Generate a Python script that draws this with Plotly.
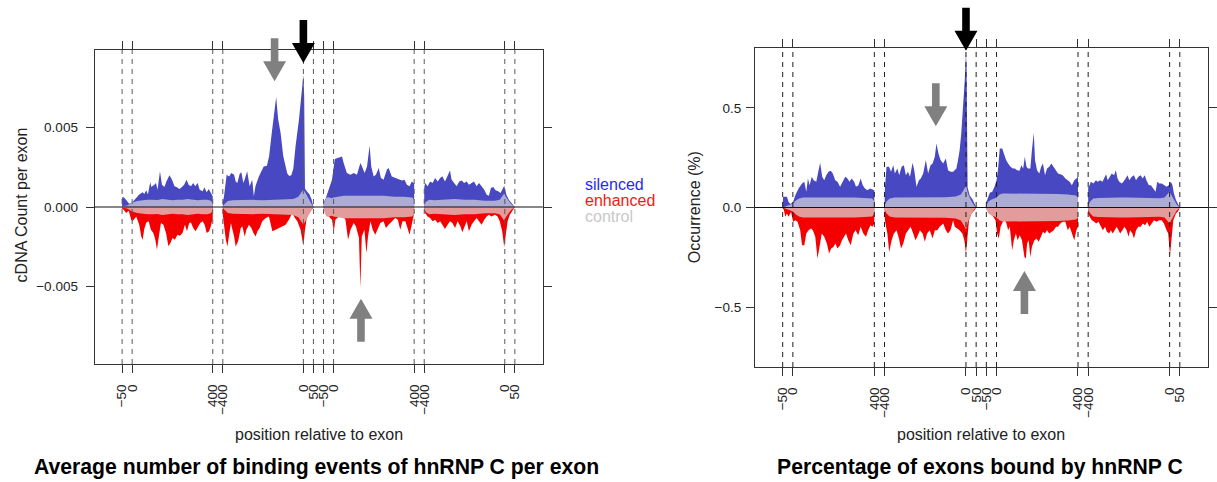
import plotly.graph_objects as go

W, H = 1217, 482
FONT = "Liberation Sans"

# ---------------------------------------------------------------------------
# x layout: four windows around the alternative exon, 5 nt per axis unit
#   A: upstream exon end (-50..0) + intron (0..400)
#   B: intron (-400..0) + alternative exon start (0..50)
#   C: alternative exon end (-50..0) + intron (0..400)
#   D: intron (-400..0) + downstream exon start (0..50)
# ---------------------------------------------------------------------------
SEGMENTS = {"A": (-50, 0), "B": (-400, 100), "C": (-50, 200), "D": (-400, 300)}
SEG_BOUNDS = {"A": [-50, 0, 400], "B": [-400, 0, 50], "C": [-50, 0, 400], "D": [-400, 0, 50]}
TICK_TEXT = ["\u221250", "0", "400", "\u2212400", "0", "50",
             "\u221250", "0", "400", "\u2212400", "0", "50"]

# ---------------- panel 1: average cDNA count per exon ----------------------
cnt_sil_A_pos = [-50, -40, -30, -15, 0, 20, 35, 52, 60, 70, 78, 90, 95, 110, 118, 126, 138, 148, 160, 170,
                 185, 198, 210, 220, 235, 247, 258, 270, 280, 292, 303, 313, 325, 335, 350, 358, 370, 380, 390, 400]
cnt_sil_A_val = [0.00062, 0.00060, 0.00045, 0.00021, 0.00028, 0.00057, 0.00078, 0.00092, 0.00082, 0.00105,
                 0.00078, 0.00157, 0.00126, 0.00140, 0.00151, 0.00109, 0.00224, 0.00140, 0.00126, 0.00161,
                 0.00199, 0.00172, 0.00130, 0.00126, 0.00113, 0.00126, 0.00140, 0.00172, 0.00140, 0.00130,
                 0.00151, 0.00130, 0.00151, 0.00109, 0.00099, 0.00124, 0.00092, 0.00113, 0.00092, 0.00067]
cnt_enh_A_pos = [-50, -42, -30, -17, -5, 2, 20, 35, 45, 52, 60, 70, 82, 93, 105, 115, 123, 135, 143, 155, 168,
                 180, 190, 200, 212, 225, 237, 250, 262, 272, 283, 292, 303, 315, 328, 338, 350, 360, 370, 382,
                 390, 400]
cnt_enh_A_val = [-0.00010, -0.00017, -0.00038, -0.00023, -0.00080, -0.00090, -0.00059, -0.00111, -0.00185,
                 -0.00206, -0.00139, -0.00097, -0.00090, -0.00143, -0.00164, -0.00206, -0.00269, -0.00164,
                 -0.00101, -0.00111, -0.00164, -0.00247, -0.00227, -0.00195, -0.00206, -0.00174, -0.00181,
                 -0.00164, -0.00111, -0.00153, -0.00101, -0.00097, -0.00132, -0.00153, -0.00122, -0.00101,
                 -0.00090, -0.00111, -0.00164, -0.00153, -0.00122, -0.00070]
cnt_ctl_A_pos = [-50, -25, -10, 0, 25, 50, 75, 100, 125, 150, 175, 200, 225, 250, 275, 300, 325, 350, 375, 390, 400]
cnt_ctl_A_val = [0.00005, 0.00010, 0.00020, 0.00028, 0.00038, 0.00042, 0.00045, 0.00045, 0.00044, 0.00050,
                 0.00045, 0.00042, 0.00045, 0.00045, 0.00050, 0.00045, 0.00042, 0.00045, 0.00045, 0.00040, 0.00025]

cnt_sil_B_pos = [-400, -394, -381, -369, -358, -344, -336, -328, -316, -308, -298, -292, -279, -267, -254, -246,
                 -238, -221, -205, -197, -181, -170, -157, -145, -135, -125, -113, -100, -88, -80, -70, -60, -50,
                 -39, -22, -9, 0, 4, 8, 20, 30, 40, 50]
cnt_sil_B_val = [0.00030, 0.00067, 0.00203, 0.00192, 0.00214, 0.00203, 0.00161, 0.00151, 0.00209, 0.00218,
                 0.00151, 0.00172, 0.00224, 0.00130, 0.00172, 0.00067, 0.00130, 0.00192, 0.00235, 0.00255,
                 0.00260, 0.00320, 0.00465, 0.00580, 0.00692, 0.00550, 0.00465, 0.00320, 0.00255, 0.00210,
                 0.00195, 0.00200, 0.00240, 0.00381, 0.00549, 0.00717, 0.00832, 0.00700, 0.00115, 0.00095,
                 0.00080, 0.00050, 0.00010]
cnt_enh_B_pos = [-400, -393, -385, -377, -369, -360, -352, -344, -336, -324, -311, -303, -291, -283, -270, -258,
                 -248, -237, -228, -217, -204, -187, -171, -162, -154, -138, -121, -105, -88, -72, -55, -42, -30,
                 -14, 0, 8, 19, 35, 47, 50]
cnt_enh_B_val = [-0.00050, -0.00122, -0.00206, -0.00248, -0.00164, -0.00101, -0.00143, -0.00185, -0.00248,
                 -0.00216, -0.00132, -0.00122, -0.00185, -0.00143, -0.00111, -0.00132, -0.00164, -0.00185,
                 -0.00153, -0.00132, -0.00090, -0.00069, -0.00059, -0.00101, -0.00153, -0.00143, -0.00132,
                 -0.00122, -0.00111, -0.00080, -0.00038, -0.00069, -0.00090, -0.00143, -0.00244, -0.00143,
                 -0.00048, -0.00027, -0.00013, -0.00005]
cnt_ctl_B_pos = [-400, -390, -375, -350, -300, -250, -200, -150, -100, -50, -25, -10, 0, 10, 25, 40, 50]
cnt_ctl_B_val = [0.00005, 0.00020, 0.00038, 0.00042, 0.00045, 0.00045, 0.00042, 0.00045, 0.00045, 0.00050,
                 0.00065, 0.00095, 0.00110, 0.00090, 0.00050, 0.00020, 0.00000]

cnt_sil_C_pos = [-50, -49, -40, -24, -8, 6, 20, 42, 50, 66, 84, 100, 116, 133, 141, 154, 166, 179, 187, 199,
                 210, 224, 235, 248, 265, 273, 289, 306, 323, 339, 352, 364, 377, 388, 398, 400]
cnt_sil_C_val = [0.00020, 0.00030, 0.00050, 0.00109, 0.00172, 0.00302, 0.00310, 0.00318, 0.00277, 0.00214,
                 0.00203, 0.00214, 0.00203, 0.00277, 0.00255, 0.00214, 0.00255, 0.00386, 0.00255, 0.00192,
                 0.00203, 0.00245, 0.00182, 0.00172, 0.00235, 0.00245, 0.00192, 0.00182, 0.00172, 0.00167,
                 0.00172, 0.00140, 0.00130, 0.00161, 0.00151, 0.00150]
cnt_enh_C_pos = [-50, -44, -24, -8, 1, 9, 26, 42, 59, 72, 84, 100, 111, 126, 133, 140, 153, 163, 171, 183, 194,
                 207, 220, 232, 248, 260, 273, 289, 306, 319, 331, 342, 356, 367, 377, 388, 398, 400]
cnt_enh_C_val = [-0.00005, -0.00017, -0.00059, -0.00080, -0.00153, -0.00080, -0.00059, -0.00048, -0.00080,
                 -0.00206, -0.00143, -0.00101, -0.00122, -0.00195, -0.00509, -0.00185, -0.00143, -0.00289,
                 -0.00185, -0.00090, -0.00143, -0.00174, -0.00138, -0.00101, -0.00090, -0.00132, -0.00111,
                 -0.00090, -0.00069, -0.00080, -0.00143, -0.00090, -0.00090, -0.00132, -0.00174, -0.00111,
                 -0.00048, -0.00040]
cnt_ctl_C_pos = [-50, -45, -35, -25, -10, 0, 25, 50, 100, 150, 200, 250, 300, 350, 390, 400]
cnt_ctl_C_val = [0.00010, 0.00035, 0.00060, 0.00062, 0.00055, 0.00060, 0.00065, 0.00070, 0.00070, 0.00068,
                 0.00070, 0.00070, 0.00065, 0.00065, 0.00060, 0.00045]

cnt_sil_D_pos = [-400, -396, -383, -371, -358, -346, -333, -321, -310, -297, -284, -272, -264, -252, -239, -226,
                 -214, -202, -189, -178, -165, -153, -140, -128, -115, -102, -90, -79, -69, -57, -46, -33, -21,
                 -13, -3, 8, 20, 33, 50]
cnt_sil_D_val = [0.00120, 0.00151, 0.00130, 0.00161, 0.00151, 0.00182, 0.00161, 0.00182, 0.00193, 0.00161,
                 0.00193, 0.00230, 0.00172, 0.00151, 0.00130, 0.00161, 0.00167, 0.00151, 0.00161, 0.00140,
                 0.00151, 0.00161, 0.00130, 0.00151, 0.00130, 0.00109, 0.00077, 0.00071, 0.00119, 0.00126,
                 0.00105, 0.00099, 0.00088, 0.00109, 0.00134, 0.00077, 0.00046, 0.00025, 0.00000]
cnt_enh_D_pos = [-400, -396, -383, -371, -358, -346, -333, -321, -310, -297, -284, -272, -260, -247, -234, -220,
                 -211, -200, -189, -178, -165, -153, -140, -128, -115, -102, -90, -79, -66, -49, -36, -25, -13,
                 -3, 4, 14, 25, 36, 50]
cnt_enh_D_val = [-0.00030, -0.00038, -0.00059, -0.00069, -0.00090, -0.00080, -0.00101, -0.00090, -0.00111,
                 -0.00138, -0.00111, -0.00090, -0.00101, -0.00132, -0.00090, -0.00122, -0.00159, -0.00122,
                 -0.00090, -0.00153, -0.00111, -0.00090, -0.00069, -0.00090, -0.00111, -0.00080, -0.00059,
                 -0.00048, -0.00059, -0.00048, -0.00059, -0.00090, -0.00153, -0.00252, -0.00185, -0.00090,
                 -0.00048, -0.00027, -0.00006]
cnt_ctl_D_pos = [-400, -390, -375, -350, -300, -250, -200, -150, -100, -50, -25, -10, -3, 5, 15, 30, 50]
cnt_ctl_D_val = [0.00015, 0.00035, 0.00045, 0.00042, 0.00045, 0.00050, 0.00045, 0.00045, 0.00040, 0.00040,
                 0.00045, 0.00070, 0.00085, 0.00065, 0.00045, 0.00020, 0.00000]

# ---------------- panel 2: percentage of exons bound -------------------------
occ_sil_A_pos = [-50, -48, -29, -21, -12, 1, 12, 28, 45, 56, 66, 74, 82, 93, 102, 115, 123, 134, 144, 154, 164,
                 175, 186, 196, 208, 219, 232, 245, 257, 268, 278, 289, 301, 310, 322, 333, 343, 354, 366, 379,
                 392, 400]
occ_sil_A_val = [0.050, 0.054, 0.054, 0.028, 0.017, 0.028, 0.062, 0.095, 0.120, 0.129, 0.079, 0.146, 0.112,
                 0.154, 0.137, 0.129, 0.171, 0.224, 0.154, 0.137, 0.162, 0.179, 0.184, 0.171, 0.137, 0.129,
                 0.104, 0.129, 0.154, 0.146, 0.129, 0.146, 0.129, 0.104, 0.112, 0.146, 0.112, 0.095, 0.087,
                 0.095, 0.090, 0.087]
occ_enh_A_pos = [-50, -45, -37, -29, -21, -9, 1, 12, 23, 36, 45, 56, 66, 77, 89, 98, 110, 121, 131, 142, 154,
                 167, 178, 188, 199, 209, 219, 232, 241, 251, 261, 272, 284, 297, 308, 321, 333, 346, 359, 370,
                 381, 391, 400]
occ_enh_A_val = [-0.005, -0.010, -0.047, -0.030, -0.047, -0.022, -0.072, -0.064, -0.072, -0.114, -0.189,
                 -0.189, -0.131, -0.114, -0.105, -0.114, -0.147, -0.256, -0.189, -0.131, -0.147, -0.181,
                 -0.231, -0.206, -0.198, -0.181, -0.206, -0.189, -0.164, -0.147, -0.131, -0.164, -0.189,
                 -0.131, -0.114, -0.139, -0.097, -0.131, -0.147, -0.114, -0.089, -0.097, -0.080]
occ_ctl_A_pos = [-50, -25, -10, 0, 15, 30, 50, 100, 150, 200, 250, 300, 350, 390, 400]
occ_ctl_A_val = [0.000, 0.010, 0.015, 0.020, 0.035, 0.045, 0.050, 0.050, 0.052, 0.050, 0.050, 0.050, 0.048,
                 0.045, 0.030]

occ_sil_B_pos = [-400, -398, -390, -378, -368, -357, -349, -337, -328, -316, -305, -295, -285, -275, -262, -254,
                 -243, -231, -222, -210, -197, -186, -174, -164, -153, -145, -135, -125, -112, -99, -88, -76, -63,
                 -47, -39, -31, -23, -14, -6, 0, 3, 8, 18, 34, 50]
occ_sil_B_val = [0.050, 0.100, 0.204, 0.204, 0.179, 0.212, 0.171, 0.196, 0.162, 0.204, 0.212, 0.162, 0.179,
                 0.154, 0.224, 0.187, 0.104, 0.137, 0.146, 0.171, 0.238, 0.171, 0.212, 0.221, 0.254, 0.321,
                 0.271, 0.238, 0.221, 0.246, 0.187, 0.179, 0.179, 0.196, 0.238, 0.288, 0.372, 0.489, 0.639,
                 0.780, 0.700, 0.100, 0.062, 0.037, 0.003]
occ_enh_B_pos = [-400, -398, -386, -377, -365, -354, -341, -329, -319, -308, -295, -284, -272, -259, -248, -236,
                 -226, -213, -202, -191, -178, -164, -153, -141, -129, -112, -99, -88, -76, -63, -55, -43, -31,
                 -18, -8, 0, 7, 15, 27, 43, 50]
occ_enh_B_val = [-0.020, -0.064, -0.131, -0.223, -0.164, -0.131, -0.114, -0.156, -0.206, -0.181, -0.131,
                 -0.114, -0.097, -0.131, -0.164, -0.139, -0.114, -0.131, -0.172, -0.131, -0.114, -0.156,
                 -0.114, -0.114, -0.097, -0.080, -0.114, -0.131, -0.114, -0.064, -0.097, -0.105, -0.114,
                 -0.131, -0.164, -0.231, -0.131, -0.064, -0.030, -0.013, 0.000]
occ_ctl_B_pos = [-400, -390, -375, -350, -300, -250, -200, -150, -100, -50, -25, -10, 0, 10, 25, 40, 50]
occ_ctl_B_val = [0.010, 0.030, 0.045, 0.050, 0.050, 0.050, 0.050, 0.050, 0.052, 0.055, 0.065, 0.090, 0.110,
                 0.070, 0.035, 0.010, 0.000]

occ_sil_C_pos = [-50, -46, -33, -21, -10, 0, 8, 16, 28, 36, 47, 57, 69, 80, 90, 101, 113, 122, 131, 139, 147,
                 155, 166, 174, 183, 189, 199, 210, 219, 228, 238, 248, 259, 269, 281, 292, 302, 313, 325, 338,
                 350, 359, 370, 382, 392, 400]
occ_sil_C_val = [0.030, 0.037, 0.074, 0.079, 0.104, 0.137, 0.196, 0.296, 0.296, 0.271, 0.238, 0.221, 0.204,
                 0.196, 0.196, 0.187, 0.184, 0.212, 0.196, 0.254, 0.204, 0.196, 0.196, 0.288, 0.375, 0.238,
                 0.187, 0.171, 0.204, 0.221, 0.162, 0.196, 0.204, 0.221, 0.204, 0.187, 0.171, 0.167, 0.162,
                 0.146, 0.137, 0.129, 0.112, 0.137, 0.146, 0.154]
occ_enh_C_pos = [-50, -46, -29, -16, -5, 3, 11, 20, 31, 41, 49, 57, 65, 77, 85, 95, 104, 114, 125, 137, 144,
                 150, 158, 166, 174, 186, 196, 207, 218, 228, 238, 248, 259, 269, 281, 292, 302, 313, 325, 338,
                 350, 359, 370, 382, 392, 400]
occ_enh_C_val = [-0.005, -0.013, -0.030, -0.047, -0.064, -0.131, -0.156, -0.097, -0.072, -0.064, -0.080,
                 -0.114, -0.097, -0.214, -0.164, -0.131, -0.164, -0.139, -0.164, -0.248, -0.256, -0.181,
                 -0.164, -0.248, -0.197, -0.164, -0.156, -0.172, -0.147, -0.122, -0.131, -0.114, -0.131,
                 -0.122, -0.114, -0.097, -0.097, -0.080, -0.072, -0.072, -0.114, -0.097, -0.131, -0.164,
                 -0.114, -0.097]
occ_ctl_C_pos = [-50, -40, -25, -10, 0, 15, 30, 50, 100, 150, 200, 250, 300, 350, 390, 400]
occ_ctl_C_val = [0.010, 0.030, 0.040, 0.045, 0.050, 0.065, 0.070, 0.070, 0.070, 0.070, 0.068, 0.070, 0.068,
                 0.065, 0.060, 0.050]

occ_sil_D_pos = [-400, -393, -387, -374, -362, -353, -341, -330, -320, -312, -304, -295, -284, -273, -264, -256,
                 -247, -235, -227, -216, -207, -198, -186, -175, -165, -154, -142, -133, -122, -114, -102, -92,
                 -80, -69, -61, -51, -39, -28, -15, -4, 6, 14, 21, 31, 42, 50]
occ_sil_D_val = [0.100, 0.112, 0.129, 0.121, 0.137, 0.129, 0.137, 0.129, 0.154, 0.167, 0.137, 0.154, 0.171,
                 0.162, 0.187, 0.146, 0.129, 0.121, 0.129, 0.146, 0.162, 0.137, 0.154, 0.162, 0.137, 0.154,
                 0.162, 0.146, 0.162, 0.137, 0.112, 0.112, 0.095, 0.079, 0.129, 0.121, 0.121, 0.112, 0.104,
                 0.112, 0.129, 0.112, 0.070, 0.037, 0.017, 0.000]
occ_enh_D_pos = [-400, -393, -382, -370, -361, -349, -338, -328, -317, -308, -297, -289, -279, -268, -260, -251,
                 -243, -232, -222, -211, -202, -194, -183, -175, -165, -154, -142, -132, -121, -110, -100, -88,
                 -77, -63, -52, -39, -28, -15, -7, 2, 10, 18, 31, 42, 50]
occ_enh_D_val = [-0.030, -0.047, -0.064, -0.072, -0.080, -0.072, -0.097, -0.114, -0.097, -0.122, -0.131,
                 -0.114, -0.131, -0.114, -0.097, -0.114, -0.131, -0.114, -0.097, -0.114, -0.147, -0.114,
                 -0.131, -0.156, -0.114, -0.097, -0.097, -0.080, -0.089, -0.072, -0.097, -0.080, -0.064,
                 -0.072, -0.064, -0.064, -0.080, -0.114, -0.131, -0.239, -0.164, -0.064, -0.030, -0.017, 0.000]
occ_ctl_D_pos = [-400, -390, -375, -350, -300, -250, -200, -150, -100, -50, -25, -10, 0, 10, 20, 35, 50]
occ_ctl_D_val = [0.010, 0.030, 0.045, 0.048, 0.050, 0.050, 0.050, 0.048, 0.047, 0.047, 0.050, 0.070, 0.080,
                 0.060, 0.040, 0.015, 0.000]

# highlighted positions: (segment, nt, value, direction, colour)
cnt_arrows = [("B", -143, 0.00790, "down", "#808080"),
              ("B", 0, 0.00906, "down", "#000000"),
              ("C", 136, -0.00577, "up", "#808080")]
occ_arrows = [("B", -148, 0.408, "down", "#808080"),
              ("B", 0, 0.786, "down", "#000000"),
              ("C", 137, -0.318, "up", "#808080")]

# ---------------- styling --------------------------------------------------
C_SIL = "rgb(72,72,194)"
C_ENH = "rgb(244,0,0)"
C_CTL_UP = "rgb(172,172,212)"
C_CTL_DN = "rgb(226,156,156)"

X_RANGE = [-27.3, 417.7]
CNT_RANGE = [-0.00987, 0.00987]
OCC_RANGE = [-0.8, 0.8]


def to_idx(seg, nts):
    start, off = SEGMENTS[seg]
    return [off + (n - start) / 5.0 for n in nts]


def polygon(seg, pos, val, color, xa, ya, sign=1):
    idx = to_idx(seg, pos)
    xs = [idx[0]] + idx + [idx[-1]]
    ys = [0] + [sign * v for v in val] + [0]
    return go.Scatter(x=xs, y=ys, mode="lines", fill="toself", fillcolor=color,
                      line=dict(width=0, color=color), hoverinfo="skip",
                      showlegend=False, xaxis=xa, yaxis=ya)


fig = go.Figure()

panels = [
    ("x", "y", {
        "A": (cnt_sil_A_pos, cnt_sil_A_val, cnt_enh_A_pos, cnt_enh_A_val, cnt_ctl_A_pos, cnt_ctl_A_val),
        "B": (cnt_sil_B_pos, cnt_sil_B_val, cnt_enh_B_pos, cnt_enh_B_val, cnt_ctl_B_pos, cnt_ctl_B_val),
        "C": (cnt_sil_C_pos, cnt_sil_C_val, cnt_enh_C_pos, cnt_enh_C_val, cnt_ctl_C_pos, cnt_ctl_C_val),
        "D": (cnt_sil_D_pos, cnt_sil_D_val, cnt_enh_D_pos, cnt_enh_D_val, cnt_ctl_D_pos, cnt_ctl_D_val),
    }),
    ("x2", "y2", {
        "A": (occ_sil_A_pos, occ_sil_A_val, occ_enh_A_pos, occ_enh_A_val, occ_ctl_A_pos, occ_ctl_A_val),
        "B": (occ_sil_B_pos, occ_sil_B_val, occ_enh_B_pos, occ_enh_B_val, occ_ctl_B_pos, occ_ctl_B_val),
        "C": (occ_sil_C_pos, occ_sil_C_val, occ_enh_C_pos, occ_enh_C_val, occ_ctl_C_pos, occ_ctl_C_val),
        "D": (occ_sil_D_pos, occ_sil_D_val, occ_enh_D_pos, occ_enh_D_val, occ_ctl_D_pos, occ_ctl_D_val),
    }),
]

for xa, ya, segs in panels:
    for seg, (sp, sv, ep, ev, cp, cv) in segs.items():
        fig.add_trace(polygon(seg, sp, sv, C_SIL, xa, ya))
        fig.add_trace(polygon(seg, ep, ev, C_ENH, xa, ya))
        fig.add_trace(polygon(seg, cp, cv, C_CTL_UP, xa, ya))
        fig.add_trace(polygon(seg, cp, cv, C_CTL_DN, xa, ya, sign=-1))

tick_idx = []
for seg in "ABCD":
    tick_idx += to_idx(seg, SEG_BOUNDS[seg])

shapes = []
for xa, ya, dash_col in [("x", "y", "#5a5a5a"), ("x2", "y2", "#1e1e1e")]:
    for t in tick_idx:
        shapes.append(dict(type="line", xref=xa, yref=ya + " domain", x0=t, x1=t, y0=0, y1=1,
                           line=dict(color=dash_col, width=1, dash="5px,5px"), layer="above"))
    shapes.append(dict(type="line", xref=xa + " domain", yref=ya, x0=0, x1=1, y0=0, y1=0,
                       line=dict(color="#111111", width=1), layer="above"))

DOWN = "M -3.8,43 L 3.8,43 L 3.8,20 L 11.5,20 L 0,0 L -11.5,20 L -3.8,20 Z"
UP = "M -3.8,-43 L 3.8,-43 L 3.8,-20 L 11.5,-20 L 0,0 L -11.5,-20 L -3.8,-20 Z"
for xa, ya, rng, arrows in [("x", "y", CNT_RANGE, cnt_arrows), ("x2", "y2", OCC_RANGE, occ_arrows)]:
    for seg, nt, v, d, col in arrows:
        frac = (v - rng[0]) / (rng[1] - rng[0])
        shapes.append(dict(type="path", xref=xa, yref=ya + " domain",
                           xsizemode="pixel", ysizemode="pixel",
                           xanchor=to_idx(seg, [nt])[0], yanchor=frac,
                           path=DOWN if d == "down" else UP,
                           fillcolor=col, line=dict(width=0), layer="above"))

tick_font = dict(family=FONT, size=13.5, color="#222222")
axis_common = dict(showgrid=False, zeroline=False, showline=True, linecolor="#333333", linewidth=1,
                   mirror="ticks", ticks="outside", ticklen=8, tickcolor="#333333", tickwidth=1,
                   tickfont=tick_font, fixedrange=True)

fig.update_layout(
    width=W, height=H, margin=dict(l=0, r=0, t=0, b=0),
    paper_bgcolor="white", plot_bgcolor="white", hovermode=False, showlegend=False,
    xaxis=dict(domain=[95 / W, 545 / W], range=X_RANGE, anchor="y", tickmode="array",
               tickvals=tick_idx, ticktext=TICK_TEXT, tickangle=-90, ticklabelstandoff=6, **axis_common),
    yaxis=dict(domain=[1 - 364 / H, 1 - 50 / H], range=CNT_RANGE, anchor="x", tickmode="array",
               tickvals=[-0.005, 0, 0.005], ticktext=["\u22120.005", "0.000", "0.005"],
               ticklabelstandoff=5, **axis_common),
    xaxis2=dict(domain=[758 / W, 1213 / W], range=X_RANGE, anchor="y2", tickmode="array",
                tickvals=tick_idx, ticktext=TICK_TEXT, tickangle=-90, ticklabelstandoff=6, **axis_common),
    yaxis2=dict(domain=[1 - 367 / H, 1 - 48 / H], range=OCC_RANGE, anchor="x2", tickmode="array",
                tickvals=[-0.5, 0, 0.5], ticktext=["\u22120.5", "0.0", "0.5"],
                ticklabelstandoff=2, **axis_common),
    shapes=shapes,
)


def px_note(text, x, y, size, color="#222222", bold=False, angle=0, xanchor="center"):
    fig.add_annotation(text=f"<b>{text}</b>" if bold else text, x=x / W, y=1 - y / H,
                       xref="paper", yref="paper", showarrow=False, textangle=angle,
                       xanchor=xanchor, yanchor="middle",
                       font=dict(family=FONT, size=size, color=color))


px_note("position relative to exon", 320, 434, 16)
px_note("position relative to exon", 985.5, 434, 16)
px_note("cDNA Count per exon", 21.5, 205, 16, angle=-90)
px_note("Occurrence (%)", 697.5, 207.5, 16, angle=-90)
px_note("Average number of binding events of hnRNP C per exon", 318, 467, 21.2, color="#000000", bold=True)
px_note("Percentage of exons bound by hnRNP C", 984.5, 467, 21.2, color="#000000", bold=True)
px_note("silenced", 585, 184.3, 16, color="rgb(40,40,250)", xanchor="left")
px_note("enhanced", 585, 200.5, 16, color="rgb(250,20,20)", xanchor="left")
px_note("control", 585, 216.5, 16, color="rgb(200,200,200)", xanchor="left")

fig.write_html("out.html")
